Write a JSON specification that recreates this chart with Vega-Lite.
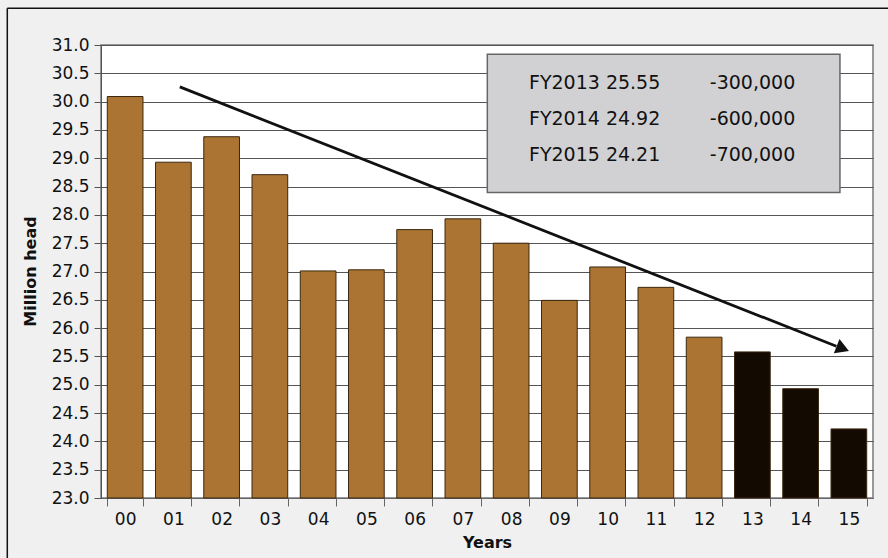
{
  "$schema": "https://vega.github.io/schema/vega-lite/v6.json",
  "autosize": {"type": "none"},
  "width": 772,
  "height": 453,
  "padding": {"left": 101, "top": 45, "right": 15, "bottom": 60},
  "background": "#eff0ef",
  "config": {
    "font": "DejaVu Sans",
    "view": {"fill": "white", "stroke": "#7a7a7a", "strokeWidth": 1.5}
  },
  "datasets": {
    "bars": [
      {"year": "00", "y": 30.09, "kind": "actual"},
      {"year": "01", "y": 28.93, "kind": "actual"},
      {"year": "02", "y": 29.38, "kind": "actual"},
      {"year": "03", "y": 28.71, "kind": "actual"},
      {"year": "04", "y": 27.01, "kind": "actual"},
      {"year": "05", "y": 27.03, "kind": "actual"},
      {"year": "06", "y": 27.74, "kind": "actual"},
      {"year": "07", "y": 27.93, "kind": "actual"},
      {"year": "08", "y": 27.5, "kind": "actual"},
      {"year": "09", "y": 26.49, "kind": "actual"},
      {"year": "10", "y": 27.08, "kind": "actual"},
      {"year": "11", "y": 26.72, "kind": "actual"},
      {"year": "12", "y": 25.84, "kind": "actual"},
      {"year": "13", "y": 25.58, "kind": "forecast"},
      {"year": "14", "y": 24.93, "kind": "forecast"},
      {"year": "15", "y": 24.22, "kind": "forecast"}
    ]
  },
  "encoding": {
    "y": {
      "field": "y", "type": "quantitative",
      "scale": {"domain": [23, 31], "zero": false, "nice": false},
      "axis": {
        "title": "Million head",
        "tickCount": 16, "tickMinStep": 0.5,
        "format": ".1f", "labelFontSize": 17, "labelColor": "#111", "tickSize": 7, "tickColor": "#555",
        "labelOverlap": false, "labelBound": false, "grid": true,
        "domainColor": "#555", "gridColor": "#555", "gridOpacity": 1, "labelPadding": 5,
        "titleFontSize": 16, "titleFontWeight": "bold", "titleColor": "#111",
        "titleX": -66, "titleY": 226, "titleBaseline": "alphabetic"
      }
    }
  },
  "layer": [
    {
      "data": {"name": "bars"},
      "mark": {"type": "bar", "stroke": "#3a2810", "strokeWidth": 1},
      "encoding": {
        "x": {
          "field": "year", "type": "ordinal",
          "scale": {"paddingInner": 0.26, "paddingOuter": 0.13},
          "axis": {
            "title": "Years", "labelAngle": 0, "labelFontSize": 17, "labelColor": "#111",
            "titleFontSize": 16, "titleFontWeight": "bold", "titleColor": "#111", "titlePadding": 7,
            "tickBand": "extent", "tickSize": 8, "tickColor": "#666", "domainColor": "#666",
            "labelPadding": 5
          }
        },
        "y2": {"datum": 23},
        "color": {
          "field": "kind", "type": "nominal",
          "scale": {"domain": ["actual", "forecast"], "range": ["#ab7433", "#130a02"]},
          "legend": null
        }
      }
    },
    {
      "data": {"values": [{"x1": "08", "x2": "15", "y": 30.836, "y2": 28.395}]},
      "mark": {"type": "rect", "fill": "#d1d1d3", "stroke": "#666", "strokeWidth": 1.5},
      "encoding": {
        "x": {"field": "x1", "type": "ordinal", "bandPosition": -0.167},
        "x2": {"field": "x2", "bandPosition": 0.25},
        "y2": {"field": "y2"}
      }
    },
    {
      "data": {"values": [
        {"col": "08", "y": 30.33, "t": "FY2013 25.55"},
        {"col": "08", "y": 29.69, "t": "FY2014 24.92"},
        {"col": "08", "y": 29.05, "t": "FY2015 24.21"}
      ]},
      "mark": {"type": "text", "align": "left", "baseline": "middle", "fontSize": 19, "color": "#111"},
      "encoding": {
        "x": {"field": "col", "type": "ordinal", "bandPosition": 1.0},
        "text": {"field": "t"}
      }
    },
    {
      "data": {"values": [
        {"col": "12", "y": 30.33, "t": "-300,000"},
        {"col": "12", "y": 29.69, "t": "-600,000"},
        {"col": "12", "y": 29.05, "t": "-700,000"}
      ]},
      "mark": {"type": "text", "align": "left", "baseline": "middle", "fontSize": 19, "color": "#111"},
      "encoding": {
        "x": {"field": "col", "type": "ordinal", "bandPosition": 0.66},
        "text": {"field": "t"}
      }
    },
    {
      "data": {"values": [{"xa": "01", "xb": "15", "y": 30.26, "yb": 25.68}]},
      "mark": {"type": "rule", "color": "#111", "strokeWidth": 2.8},
      "encoding": {
        "x": {"field": "xa", "type": "ordinal", "bandPosition": 0.68},
        "x2": {"field": "xb", "bandPosition": 0.15},
        "y2": {"field": "yb"}
      }
    },
    {
      "data": {"values": [{"xa": "15", "y": 25.64}]},
      "mark": {"type": "point", "shape": "triangle-right", "filled": true, "color": "#111", "opacity": 1, "size": 230, "angle": 21.6},
      "encoding": {
        "x": {"field": "xa", "type": "ordinal", "bandPosition": 0.33}
      }
    },
    {
      "data": {"values": [{"xa": "00", "y": 31.65, "yb": 21.9}]},
      "mark": {"type": "rule", "color": "#111", "strokeWidth": 1.5},
      "encoding": {
        "x": {"field": "xa", "type": "ordinal", "bandPosition": -2.8},
        "y2": {"field": "yb"}
      }
    },
    {
      "data": {"values": [{"xa": "00", "xb": "15", "y": 31.65}]},
      "mark": {"type": "rule", "color": "#111", "strokeWidth": 1.5},
      "encoding": {
        "x": {"field": "xa", "type": "ordinal", "bandPosition": -2.8},
        "x2": {"field": "xb", "bandPosition": 2.0}
      }
    }
  ]
}
